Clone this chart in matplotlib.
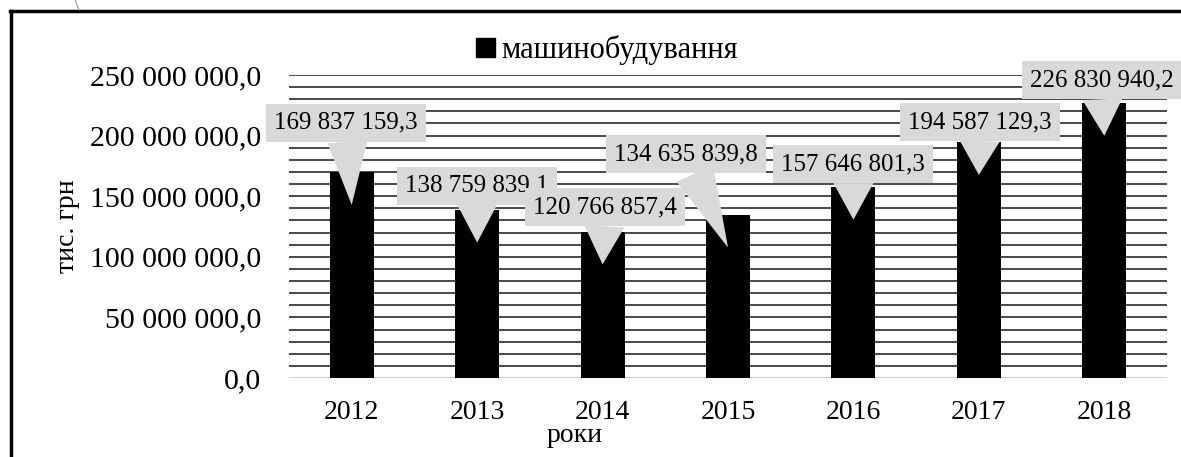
import matplotlib.pyplot as plt
from matplotlib.lines import Line2D
from matplotlib.patches import Patch

years = ["2012", "2013", "2014", "2015", "2016", "2017", "2018"]
values = [169837159.3, 138759839.1, 120766857.4, 134635839.8,
          157646801.3, 194587129.3, 226830940.2]
series_name = "машинобудування"
y_ticks = [0, 50e6, 100e6, 150e6, 200e6, 250e6]

# callout box centre relative to the pointer tip (points)
label_offsets = [(-4, 59), (0, 41), (2, 41), (-30, 67), (0, 40), (1, 38), (-2, 40)]
tip_drop = 27e6  # pointer tip sits this far below the bar top


def fmt(v):
    return f"{v:,.1f}".replace(",", " ").replace(".", ",")


plt.rcParams['font.family'] = ['Liberation Serif', 'DejaVu Serif']

fig = plt.figure(figsize=(11.81, 4.57), dpi=100)
ax = fig.add_axes([289 / 1181, 1 - 378 / 457, (1167 - 289) / 1181, (378 - 75) / 457])

x = list(range(len(years)))
ax.bar(x, values, width=0.35, color="black", zorder=3)

ax.set_ylim(0, 250e6)
ax.set_xlim(-0.5, len(years) - 0.5)
for g in range(10, 251, 10):
    ax.axhline(g * 1e6, color="#2a2a2a", lw=1.2, zorder=1)
ax.axhline(0, color="#d0d0d0", lw=1.5, zorder=2)

ax.set_yticks(y_ticks)
ax.set_yticklabels([fmt(t) for t in y_ticks], fontsize=21.5)
ax.set_xticks(x)
ax.set_xticklabels(years, fontsize=20)
ax.tick_params(axis="both", length=0)
ax.tick_params(axis="y", pad=20)
ax.tick_params(axis="x", pad=16)
for s in ax.spines.values():
    s.set_visible(False)

ax.set_ylabel("тис. грн", fontsize=20)
ax.yaxis.set_label_coords((80 - 289) / 878, 0.5)
ax.set_xlabel("роки", fontsize=20)
ax.xaxis.set_label_coords((575 - 289) / 878, -45 / 303)

for i, v in enumerate(values):
    dx, dy = label_offsets[i]
    ax.annotate(fmt(v), xy=(i, v - tip_drop), xytext=(dx, dy),
                textcoords="offset points", fontsize=18,
                ha="center", va="center", zorder=5,
                bbox=dict(boxstyle="square,pad=0.32", fc="#d9d9d9", ec="none"),
                arrowprops=dict(arrowstyle="wedge,tail_width=1.6,shrink_factor=0.5",
                                fc="#d9d9d9", ec="none", shrinkA=0, shrinkB=0))

fig.legend(handles=[Patch(color="black")], labels=[series_name],
           loc="center", bbox_to_anchor=(607 / 1181, 1 - 50 / 457),
           frameon=False, fontsize=22, handlelength=0.6, handleheight=0.6,
           handletextpad=0.2)

# outer frame of the pasted picture
fig.add_artist(Line2D([10 / 1181, 1], [1 - 11 / 457] * 2, color="black", lw=2.5,
                      transform=fig.transFigure))
fig.add_artist(Line2D([11 / 1181] * 2, [0, 1 - 11 / 457], color="black", lw=2.5,
                      transform=fig.transFigure))
fig.add_artist(Line2D([75 / 1181, 79 / 1181], [1, 1 - 10 / 457], color="#999999",
                      lw=0.8, transform=fig.transFigure))

fig.savefig("out.png", dpi=100)
